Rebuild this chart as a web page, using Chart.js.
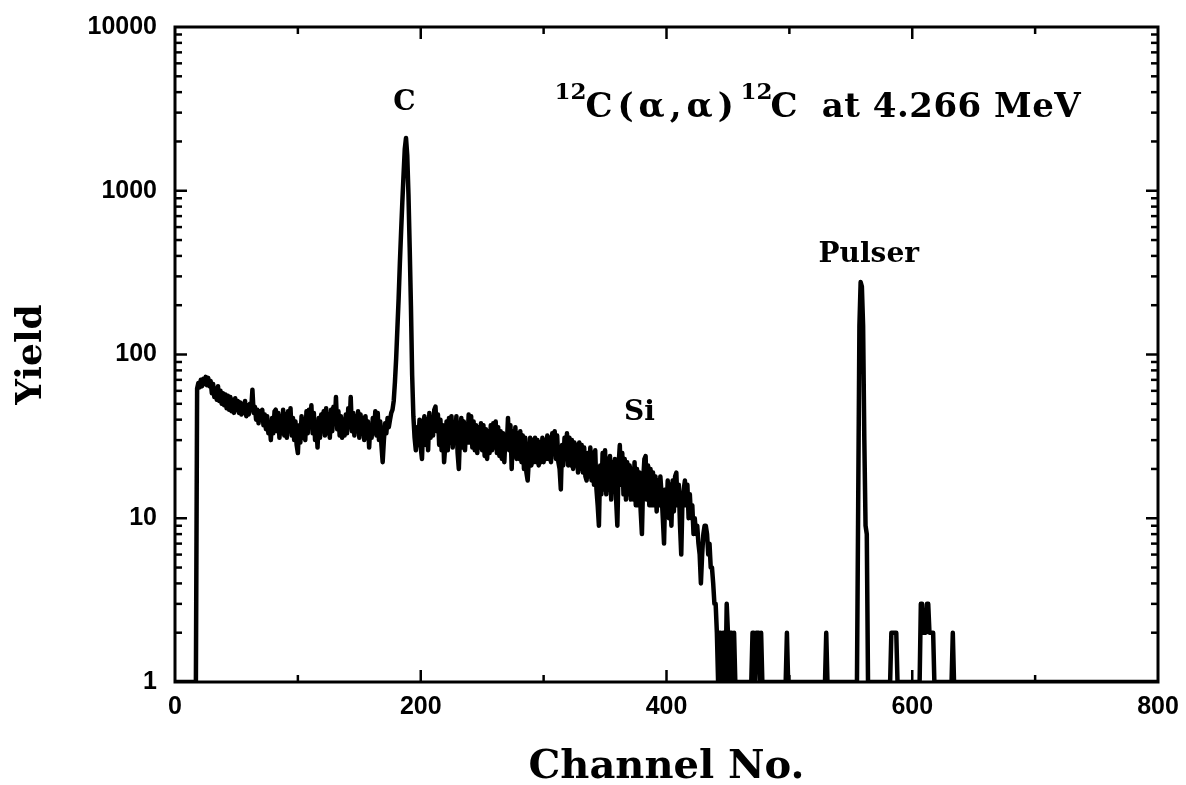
<!DOCTYPE html>
<html>
<head>
<meta charset="utf-8">
<title>12C(α,α)12C at 4.266 MeV</title>
<script src="https://cdn.jsdelivr.net/npm/chart.js@4.4.1/dist/chart.umd.min.js"></script>
<style>
html,body{margin:0;padding:0;background:#fff;overflow:hidden;}
#wrap{width:1186px;height:785px;position:relative;background:#fff;}
canvas{display:block;}
</style>
</head>
<body>
<div id="wrap"><canvas id="chart" width="1186" height="785"></canvas></div>
<script>
// ---------------- data ----------------
const xTickLabels = ['0', '200', '400', '600', '800'];
const yTickLabels = ['1', '10', '100', '1000', '10000'];

// empty channels before the spectrum starts (drawn on the baseline)
const leadChannels = [0, 17];
const leadCounts = [1, 1];

// channel-by-channel yield, channels 18 .. 459
const spectrumStartChannel = 18;
const spectrumCounts = [
  62, 67,
  63, 70, 64, 71, 66, 73, 65, 72, 64, 69,
  58, 66, 55, 62, 53, 64, 52, 60, 50, 58,
  49, 57, 47, 56, 46, 55, 45, 53, 44, 54,
  46, 52, 44, 51, 43, 50, 44, 52, 42, 49,
  43, 50, 46, 61, 44, 48, 40, 46, 38, 45,
  40, 46, 37, 43, 35, 42, 33, 38, 30, 41,
  33, 45, 46, 34, 44, 31, 42, 33, 46, 32,
  43, 31, 45, 34, 47, 32, 41, 30, 39, 28,
  25, 37, 29, 42, 31, 40, 30, 45, 33, 46,
  36, 49, 33, 44, 30, 38, 27, 41, 31, 43,
  34, 45, 32, 47, 33, 43, 31, 46, 34, 48,
  38, 55, 35, 45, 32, 42, 31, 40, 32, 43,
  33, 47, 36, 55, 34, 44, 32, 42, 34, 45,
  31, 43, 33, 41, 30, 42, 32, 39, 27, 37,
  31, 41, 33, 45, 32, 44, 30, 39, 28, 22,
  30, 38, 33, 41, 36, 40, 44, 46, 52, 68,
  95, 145, 220, 360, 560, 850, 1250, 1800, 2100, 1650,
  950, 450, 200, 75, 42, 31, 26, 36, 28, 40,
  27, 23, 38, 42, 28, 40, 26, 44, 31, 41,
  32, 46, 48, 34, 43, 28, 40, 26, 37, 22,
  28, 39, 26, 41, 29, 42, 27, 38, 31, 42,
  25, 20, 33, 41, 27, 39, 26, 37, 29, 43,
  29, 42, 27, 39, 26, 37, 25, 36, 27, 38,
  26, 37, 24, 35, 23, 34, 25, 37, 26, 38,
  27, 39, 25, 36, 24, 34, 23, 33, 22, 32,
  27, 41, 26, 37, 20, 34, 24, 36, 23, 33,
  23, 34, 22, 32, 20, 31, 19, 17, 23, 31,
  21, 30, 22, 31, 22, 30, 21, 29, 22, 31,
  22, 30, 23, 32, 23, 31, 22, 33, 25, 34,
  23, 32, 22, 20, 15, 28, 21, 31, 23, 33,
  21, 31, 21, 30, 20, 29, 21, 28, 19, 29,
  20, 28, 19, 27, 18, 17, 25, 18, 27, 17,
  25, 16, 26, 15, 12, 9, 21, 14, 25, 15,
  26, 14, 23, 15, 24, 13, 22, 15, 23, 13,
  9, 21, 28, 16, 25, 14, 23, 13, 22, 14,
  21, 13, 20, 13, 22, 12, 20, 12, 19, 11,
  8, 17, 23, 24, 13, 21, 12, 20, 12, 19,
  12, 18, 11, 17, 12, 18, 14, 10, 7, 15,
  11, 17, 10, 16, 9, 17, 11, 18, 19, 12,
  16, 9, 6, 13, 15, 17, 12, 16, 10, 14,
  10, 12, 8, 10, 8, 9, 7, 6, 4, 6,
  8, 9, 9, 8, 6, 7, 5, 5, 4, 3,
  3, 2, 1, 2, 2, 1, 2, 2, 1, 3,
  2, 1, 2, 2, 1, 2, 1, 1, 1, 1
];

// sparse channels above 460 (single counts / pulser), others on baseline
const tailChannels = [
  469, 470, 471, 472, 473, 474, 475, 476, 477, 478,
  497, 498, 499,
  529, 530, 531,
  555, 556, 557, 558, 559, 560, 561, 562, 563, 564,
  582, 583, 584, 585, 586, 587, 588,
  606, 607, 608, 609, 610, 611, 612, 613, 614, 615, 616, 617, 618,
  632, 633, 634,
  800
];
const tailCounts = [
  1, 2, 2, 1, 2, 2, 2, 1, 2, 1,
  1, 2, 1,
  1, 2, 1,
  1, 12, 150, 277, 260, 150, 30, 9, 8, 1,
  1, 2, 2, 2, 2, 2, 1,
  1, 3, 3, 2, 2, 2, 3, 3, 2, 2, 2, 2, 1,
  1, 2, 1,
  1
];

const peakLabels = ['C', 'Si', 'Pulser'];
const titleParts = ['12', 'C(α,α)', '12', 'C', 'at 4.266 MeV'];
const xAxisTitle = 'Channel No.';
const yAxisTitle = 'Yield';

// ---------------- build the dataset ----------------
const points = [];
leadChannels.forEach((c, i) => points.push({ x: c, y: leadCounts[i] }));
spectrumCounts.forEach((v, i) => points.push({ x: spectrumStartChannel + i, y: v }));
tailChannels.forEach((c, i) => points.push({ x: c, y: tailCounts[i] }));

// ---------------- plugins ----------------
const whiteBg = {
  id: 'whiteBg',
  beforeDraw(chart) {
    const ctx = chart.ctx;
    ctx.save();
    ctx.fillStyle = '#fff';
    ctx.fillRect(0, 0, chart.width, chart.height);
    ctx.restore();
  }
};

const frameTicks = {
  id: 'frameTicks',
  afterDatasetsDraw(chart) {
    const { ctx, chartArea: a, scales: { x, y } } = chart;
    ctx.save();
    ctx.strokeStyle = '#000';
    ctx.lineCap = 'butt';
    const seg = (x1, y1, x2, y2) => { ctx.beginPath(); ctx.moveTo(x1, y1); ctx.lineTo(x2, y2); ctx.stroke(); };
    ctx.lineWidth = 2.5;
    for (let e = Math.log10(y.min); e < Math.log10(y.max); e++) {
      for (let m = 1; m <= 9; m++) {
        const v = m * Math.pow(10, e);
        if (v <= y.min) continue;
        const py = y.getPixelForValue(v);
        const len = m === 1 ? 12 : 7;
        seg(a.left, py, a.left + len, py);
        seg(a.right, py, a.right - len, py);
      }
    }
    x.ticks.forEach(t => {
      if (t.value <= x.min || t.value >= x.max) return;
      const px = x.getPixelForValue(t.value);
      const len = (t.value % 200 === 0) ? 12 : 7;
      seg(px, a.bottom, px, a.bottom - len);
      seg(px, a.top, px, a.top + len);
    });
    ctx.lineWidth = 3;
    ctx.strokeRect(a.left, a.top, a.right - a.left, a.bottom - a.top);
    ctx.restore();
  }
};

const annotations = {
  id: 'annotations',
  afterDraw(chart, args, opts) {
    const { ctx, scales: { x, y } } = chart;
    ctx.save();
    ctx.fillStyle = '#000';
    ctx.textBaseline = 'alphabetic';
    ctx.textAlign = 'center';
    ctx.font = 'bold 28px "DejaVu Serif"';
    opts.labels.forEach((p, i) => {
      ctx.fillText(peakLabels[i], x.getPixelForValue(p.ch), y.getPixelForValue(p.yv));
    });
    ctx.textAlign = 'left';
    const base = y.getPixelForValue(opts.title.yv);
    opts.title.parts.forEach((p, i) => {
      ctx.font = p.sup ? 'bold 23px "DejaVu Serif"' : 'bold 34px "DejaVu Serif"';
      ctx.letterSpacing = (p.spacing || 0) + 'px';
      ctx.fillText(titleParts[i], x.getPixelForValue(p.ch), base - (p.sup ? 18 : 0));
    });
    ctx.letterSpacing = '0px';
    ctx.restore();
  }
};

// ---------------- chart ----------------
const tickFont = { family: 'Liberation Sans', weight: 'bold', size: 25 };
const titleFont = { family: 'DejaVu Serif', weight: 'bold', size: 40, lineHeight: 0.85 };

new Chart(document.getElementById('chart'), {
  type: 'line',
  data: {
    datasets: [{
      data: points,
      borderColor: '#000',
      borderWidth: 4.5,
      borderJoinStyle: 'round',
      borderCapStyle: 'round',
      pointRadius: 0,
      tension: 0,
      fill: false
    }]
  },
  options: {
    responsive: false,
    animation: false,
    devicePixelRatio: 1,
    layout: { padding: { left: 0, right: 28, top: 27, bottom: 0 } },
    plugins: {
      legend: { display: false },
      tooltip: { enabled: false },
      annotations: {
        labels: [
          { ch: 186.6, yv: 3100 },
          { ch: 378, yv: 40 },
          { ch: 564.6, yv: 367 }
        ],
        title: {
          yv: 2818,
          parts: [
            { ch: 308.8, sup: true },
            { ch: 334, spacing: 5 },
            { ch: 460.3, sup: true },
            { ch: 484.7 },
            { ch: 526.3, spacing: 0.5 }
          ]
        }
      }
    },
    scales: {
      x: {
        type: 'linear',
        min: 0,
        max: 800,
        grid: { display: false, drawTicks: false },
        border: { display: false },
        ticks: {
          stepSize: 100,
          autoSkip: false,
          maxRotation: 0,
          padding: 10,
          color: '#000',
          font: tickFont,
          callback: (v) => { const s = String(v); return xTickLabels.includes(s) ? s : ''; }
        },
        title: { display: true, text: xAxisTitle, color: '#000', font: titleFont, padding: { top: 0, bottom: 0 } },
        afterFit: (s) => { s.height = 103; s.paddingLeft = 0; s.paddingRight = 0; }
      },
      y: {
        type: 'logarithmic',
        min: 1,
        max: 10000,
        grid: { display: false, drawTicks: false },
        border: { display: false },
        ticks: {
          autoSkip: false,
          padding: 18,
          color: '#000',
          font: tickFont,
          callback: (v) => { const s = String(v); return yTickLabels.includes(s) ? s : ''; }
        },
        title: { display: true, text: yAxisTitle, color: '#000', font: { family: 'DejaVu Serif', weight: 'bold', size: 36, lineHeight: 1.2 }, padding: { top: 10, bottom: 0 } },
        afterFit: (s) => { s.width = 175; s.paddingTop = 0; s.paddingBottom = 0; }
      }
    }
  },
  plugins: [whiteBg, frameTicks, annotations]
});
</script>
</body>
</html>
